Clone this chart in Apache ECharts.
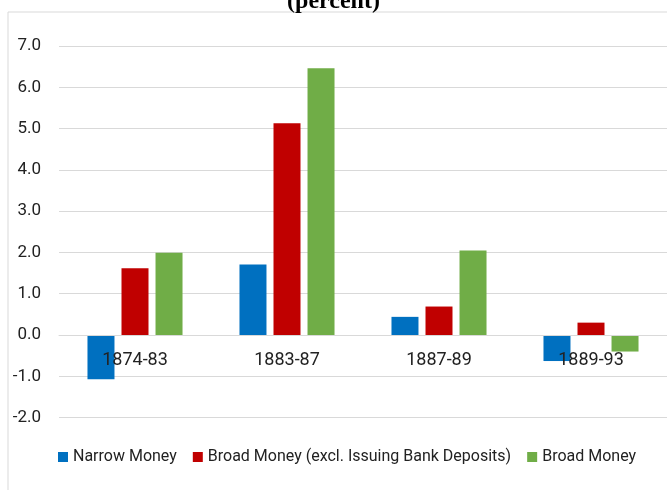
<!DOCTYPE html>
<html>
<head>
<meta charset="utf-8">
<script src="https://cdn.jsdelivr.net/npm/echarts@6/dist/echarts.min.js"></script>
<style>
  html, body { margin: 0; padding: 0; background: #fff; }
  #main { width: 667px; height: 490px; }
</style>
</head>
<body>
<div id="main"></div>
<script>
var periods = ['1874-83', '1883-87', '1887-89', '1889-93'];
var narrowMoney = [-1.07, 1.71, 0.44, -0.63];
var broadExclIssuing = [1.62, 5.13, 0.69, 0.30];
var broadMoney = [1.99, 6.46, 2.05, -0.40];
var seriesNames = ['Narrow Money', 'Broad Money (excl. Issuing Bank Deposits)', 'Broad Money'];

var myChart = echarts.init(document.getElementById('main'));

var labelFont = 'Roboto, "Liberation Sans", sans-serif';

// plot area: -2 .. 7, so zero sits 2/9 of the height above the bottom
var gridHeight = 371.6;
var zeroOffset = gridHeight * 2 / 9;

var option = {
    animation: false,
    color: ['#0070C0', '#C00000', '#70AD47'],
    title: {
        text: '(percent)',
        left: 'center',
        top: -15,
        textStyle: {
            fontFamily: '"Liberation Serif", "DejaVu Serif", serif',
            fontWeight: 'bold',
            fontSize: 24,
            color: '#000'
        }
    },
    graphic: [{
        type: 'rect',
        shape: { x: 8, y: 12, width: 700, height: 520 },
        style: { fill: 'none', stroke: '#d9d9d9', lineWidth: 1 },
        silent: true
    }],
    legend: {
        data: seriesNames,
        left: 53,
        top: 444,
        icon: 'rect',
        itemWidth: 10,
        itemHeight: 10,
        itemGap: 16,
        textStyle: { fontFamily: labelFont, fontSize: 16, color: '#222' }
    },
    grid: {
        left: 59,
        top: 46,
        width: 621,
        height: gridHeight
    },
    xAxis: {
        type: 'category',
        data: periods,
        offset: -zeroOffset,
        z: 5,
        axisLine: { onZero: false, lineStyle: { color: '#d9d9d9' } },
        axisTick: { show: false },
        axisLabel: { fontFamily: labelFont, fontSize: 18, color: '#222', margin: 16 }
    },
    yAxis: {
        type: 'value',
        min: -2,
        max: 7,
        interval: 1,
        axisLine: { show: false },
        axisTick: { show: false },
        splitLine: { lineStyle: { color: '#d9d9d9' } },
        axisLabel: {
            fontFamily: labelFont,
            fontSize: 17,
            color: '#222',
            margin: 18,
            formatter: function (v) { return v.toFixed(1); }
        }
    },
    series: [
        { name: seriesNames[0], type: 'bar', data: narrowMoney, barWidth: 27, barGap: '26%' },
        { name: seriesNames[1], type: 'bar', data: broadExclIssuing, barWidth: 27, barGap: '26%' },
        { name: seriesNames[2], type: 'bar', data: broadMoney, barWidth: 27, barGap: '26%' }
    ]
};

myChart.setOption(option);
</script>
</body>
</html>
